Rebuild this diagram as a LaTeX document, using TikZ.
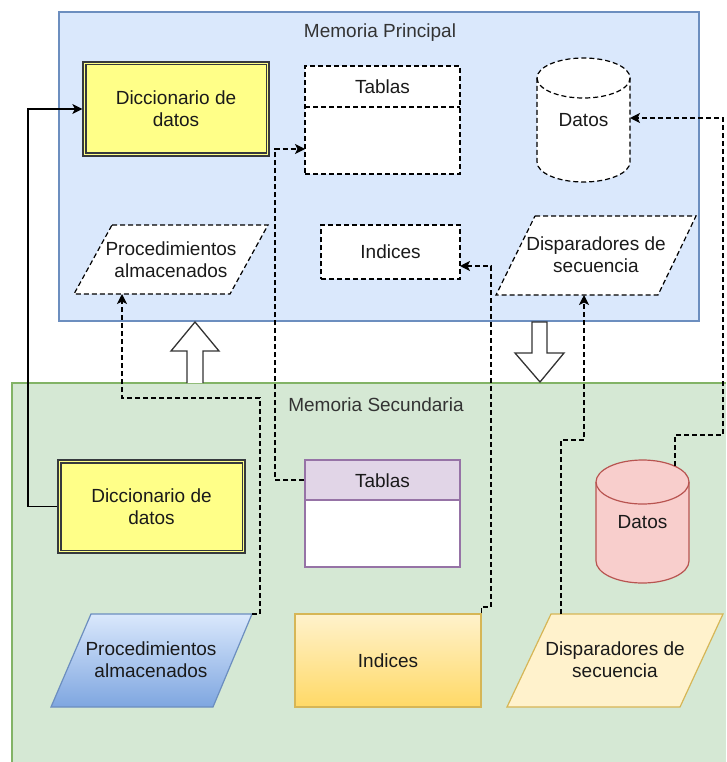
\documentclass[tikz,border=0pt]{standalone}
\usepackage{fontspec}
\setmainfont{Liberation Sans}
\usetikzlibrary{arrows.meta}
\definecolor{bluefill}{HTML}{DAE8FC}
\definecolor{blueline}{HTML}{6C8EBF}
\definecolor{bluedark}{HTML}{7EA6E0}
\definecolor{greenfill}{HTML}{D5E8D4}
\definecolor{greenline}{HTML}{82B366}
\definecolor{yellowfill}{HTML}{FFFF88}
\definecolor{darkline}{HTML}{36393D}
\definecolor{purplefill}{HTML}{E1D5E7}
\definecolor{purpleline}{HTML}{9673A6}
\definecolor{redfill}{HTML}{F8CECC}
\definecolor{redline}{HTML}{B85450}
\definecolor{paleyellow}{HTML}{FFF2CC}
\definecolor{goldfill}{HTML}{FFD966}
\definecolor{goldline}{HTML}{D6B656}
\definecolor{titlegray}{HTML}{333333}
\definecolor{textdark}{HTML}{1A1A1A}
\begin{document}
\begin{tikzpicture}[x=1pt,y=1pt,
  txt/.style={font=\fontsize{19}{22}\selectfont, text=textdark, align=center, inner sep=0pt},
  titletxt/.style={font=\fontsize{19}{22}\selectfont, text=titlegray, inner sep=0pt},
  dashpat/.style={dash pattern=on 5pt off 3pt},
  dashbox/.style={draw=black, fill=white, dashpat, line width=1.2pt, inner sep=0pt},
  dbbox/.style={draw=darkline, fill=yellowfill, line width=1.2pt, inner sep=0pt},
  conn/.style={draw=black, line width=1.3pt, dashpat, -{Stealth[length=10pt,width=10pt,inset=2.5pt]}},
  solidconn/.style={draw=black, line width=1.3pt, -{Stealth[length=10pt,width=10pt,inset=2.5pt]}},
  hollow/.style={draw=titlegray, fill=white, line width=1.3pt, line join=miter}
]
\useasboundingbox (0,0) rectangle (726,-762);
% containers
\fill[greenfill] (12,-383) rectangle (726,-762);
\draw[greenline, line width=1.5pt] (12,-762) -- (12,-383) -- (726,-383);
\draw[fill=bluefill, draw=blueline, line width=1.5pt] (59,-12) rectangle (699,-321);
\node[titletxt] (tprin) at (380,-33) {Memoria Principal};
\node[titletxt] (tsec) at (376,-405) {Memoria Secundaria};
% hollow arrows
\draw[hollow] (187,-383) -- (187,-351) -- (171,-351) -- (195,-322) -- (219,-351) -- (203,-351) -- (203,-383);
\draw[hollow] (532,-322) -- (532,-353) -- (515,-353) -- (540,-382) -- (564,-353) -- (547,-353) -- (547,-322) -- cycle;
% ---------- principal ----------
\node[dbbox, minimum width=186pt, minimum height=94pt] (dicP) at (176,-109) {};
\draw[darkline, line width=1.2pt] ([shift={(3.5,-3.5)}]dicP.north west) rectangle ([shift={(-3.5,3.5)}]dicP.south east);
\node[txt] (dicPt) at (176,-109) {Diccionario de\\datos};
\node[dashbox, minimum width=155pt, minimum height=108pt] (tabP) at (382.5,-120) {};
\draw[dashpat, line width=1.2pt] (305,-107) -- (460,-107);
\node[txt] (tabPt) at (382.5,-87) {Tablas};
\coordinate (tabPin) at (305,-149);
% datos cylinder principal
\draw[dashbox] (537,-78) -- (537,-162) arc (180:360:46.5 and 20) -- (630,-78) arc (0:180:46.5 and 20) -- cycle;
\draw[dashpat, line width=1.2pt] (537,-78) arc (180:360:46.5 and 20);
\node[txt] (datP) at (583.5,-120) {Datos};
\coordinate (datPin) at (630,-118);
% procedimientos principal
\draw[dashbox] (112,-225) -- (268,-225) -- (230,-294) -- (74,-294) -- cycle;
\node[txt] (procP) at (171,-260) {Procedimientos\\almacenados};
\coordinate (procPin) at (122,-294);
% indices principal
\node[dashbox, minimum width=139pt, minimum height=54pt] (indP) at (390.5,-252) {};
\node[txt] (indPt) at (390.5,-252) {Indices};
\coordinate (indPin) at (460,-266);
% disparadores principal
\draw[dashbox] (535,-216) -- (696,-216) -- (658,-295) -- (496,-295) -- cycle;
\node[txt] (dispP) at (596,-255) {Disparadores de\\secuencia};
\coordinate (dispPin) at (584,-295);
% ---------- secundaria ----------
\node[dbbox, minimum width=187pt, minimum height=93pt] (dicS) at (151.5,-506.5) {};
\draw[darkline, line width=1.2pt] ([shift={(3.5,-3.5)}]dicS.north west) rectangle ([shift={(-3.5,3.5)}]dicS.south east);
\node[txt] (dicSt) at (151.5,-506.5) {Diccionario de\\datos};
\node[draw=purpleline, fill=purplefill, line width=1.2pt, minimum width=155pt, minimum height=40pt, inner sep=0pt] (tabSh) at (382.5,-480) {};
\node[txt] (tabSt) at (382.5,-481) {Tablas};
\node[draw=purpleline, fill=white, line width=1.2pt, minimum width=155pt, minimum height=67pt, inner sep=0pt] (tabSb) at (382.5,-533.5) {};
% datos cylinder secundaria
\draw[fill=redfill, draw=redline, line width=1.2pt] (596,-482) -- (596,-561) arc (180:360:46.5 and 22) -- (689,-482) arc (0:180:46.5 and 22) -- cycle;
\draw[redline, line width=1.2pt] (596,-482) arc (180:360:46.5 and 22);
\node[txt] (datS) at (642.5,-522) {Datos};
\coordinate (datSout) at (675,-466);
% procedimientos secundaria
\shade[top color=bluefill, bottom color=bluedark] (91,-614) -- (252,-614) -- (213,-707) -- (51,-707) -- cycle;
\draw[blueline, line width=1.2pt] (91,-614) -- (252,-614) -- (213,-707) -- (51,-707) -- cycle;
\node[txt] (procS) at (151,-660) {Procedimientos\\almacenados};
\coordinate (procSout) at (252,-614);
% indices secundaria
\node[draw=goldline, top color=paleyellow, bottom color=goldfill, line width=1.2pt, minimum width=186pt, minimum height=93pt, inner sep=0pt] (indS) at (388,-660.5) {};
\node[txt] (indSt) at (388,-660.5) {Indices};
% disparadores secundaria
\draw[fill=paleyellow, draw=goldline, line width=1.2pt] (551,-614) -- (723,-614) -- (680,-707) -- (507,-707) -- cycle;
\node[txt] (dispS) at (615,-660) {Disparadores de\\secuencia};
\coordinate (dispSout) at (561,-614);
% ---------- connectors ----------
\coordinate (k1) at (28,-300);
\draw[solidconn] (dicS.west) -| (k1) |- (dicP.west);
\coordinate (k2) at (275,-300);
\draw[conn] (tabSh.west) -| (k2) |- (tabPin);
\coordinate (k3) at (260,-398);
\draw[conn] (procSout) -| (k3) -| (procPin);
\coordinate (k4) at (491,-607);
\draw[conn] (indS.north east) |- (k4) |- (indPin);
\coordinate (k5) at (584,-440);
\draw[conn] (dispSout) |- (k5) -- (dispPin);
\coordinate (k6) at (723,-435);
\draw[conn] (datSout) |- (k6) |- (datPin);
\end{tikzpicture}
\end{document}
